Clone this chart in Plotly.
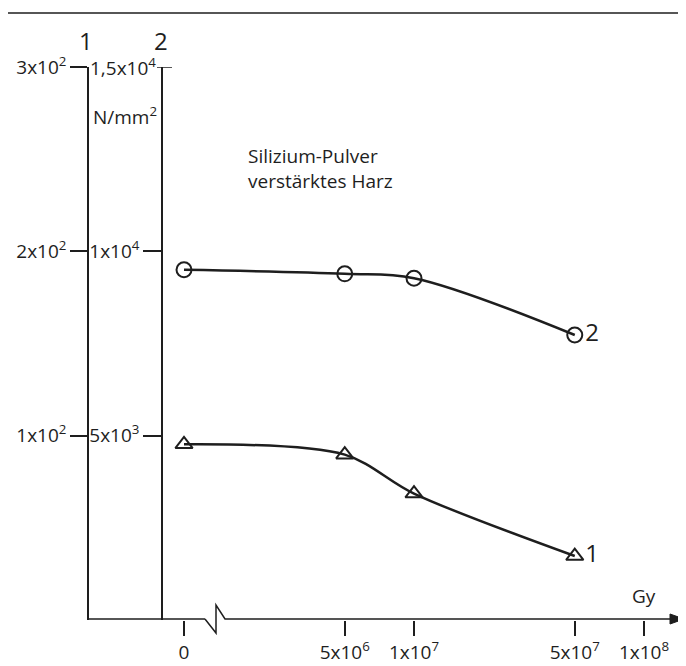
import math
import plotly.graph_objects as go

# ---------------- data ----------------
DOSE_GY = [0, 5e6, 1e7, 5e7]                 # irradiation dose (Gy)
SERIES1_NMM2 = [95.3, 89.7, 68.6, 34.7]       # curve 1, scale 1 (N/mm^2)
SERIES2_NMM2 = [9500, 9390, 9270, 7730]       # curve 2, scale 2 (N/mm^2)
SERIES_NAMES = ["1", "2"]

X_TICK_DOSES = [0, 5e6, 1e7, 5e7, 1e8]
X_TICK_LABELS = ["0", "5x10<sup>6</sup>", "1x10<sup>7</sup>", "5x10<sup>7</sup>", "1x10<sup>8</sup>"]
Y1_TICKS = [100, 200, 300]
Y1_LABELS = ["1x10<sup>2</sup>", "2x10<sup>2</sup>", "3x10<sup>2</sup>"]
Y2_TICKS = [5000, 10000]
Y2_LABELS = ["5x10<sup>3</sup>", "1x10<sup>4</sup>"]
Y2_TOP_TICK = 15000
Y2_TOP_LABEL = "1,5x10<sup>4</sup>"
BREAK_POS = 1e6   # where dose 0 is drawn on the broken log axis

TITLE_LINES = ["Silizium-Pulver", "verstärktes Harz"]

# ---------------- geometry helpers ----------------
W, H = 686, 666
OFF = 8           # default page body margin
INK = "#1e1e1e"
FONT = "Open Sans"


def px(x):
    return (x - OFF) / W


def py(y):
    return 1 - (y - OFF) / H


def to_axis(d):
    return BREAK_POS if d == 0 else d


X_LEFT, X_RIGHT = 88, 683
X0_PIX, DEC_PIX = 184, 230
lx0 = math.log10(BREAK_POS)
xrange_log = [lx0 - (X0_PIX - X_LEFT) / DEC_PIX, lx0 + (X_RIGHT - X0_PIX) / DEC_PIX]
Y_ZERO, Y_TOP = 620, 67
AX1_X, AX2_X = 88, 162

fig = go.Figure()

fig.add_trace(go.Scatter(
    x=[to_axis(d) for d in DOSE_GY], y=SERIES1_NMM2, yaxis="y",
    mode="lines+markers+text", line=dict(color=INK, width=2.5, shape="spline", smoothing=0.9),
    marker=dict(symbol="triangle-up-open", size=15, color=INK, line=dict(width=2, color=INK)),
    text=["", "", "", SERIES_NAMES[0]], textposition="middle right",
    textfont=dict(size=24, color=INK, family=FONT), cliponaxis=False, showlegend=False,
))
fig.add_trace(go.Scatter(
    x=[to_axis(d) for d in DOSE_GY], y=SERIES2_NMM2, yaxis="y2",
    mode="lines+markers+text", line=dict(color=INK, width=2.5, shape="spline", smoothing=1.0),
    marker=dict(symbol="circle-open", size=15, color=INK, line=dict(width=2, color=INK)),
    text=["", "", "", SERIES_NAMES[1]], textposition="middle right",
    textfont=dict(size=24, color=INK, family=FONT), cliponaxis=False, showlegend=False,
))

ydom = [py(Y_ZERO), py(Y_TOP)]
tickfont = dict(size=19, color=INK, family=FONT)

fig.update_layout(
    width=W, height=H, margin=dict(l=0, r=0, t=0, b=0, autoexpand=False),
    paper_bgcolor="white", plot_bgcolor="white",
    font=dict(family=FONT, color=INK),
    xaxis=dict(type="log", range=xrange_log, domain=[px(X_LEFT), px(X_RIGHT)],
               tickvals=[to_axis(d) for d in X_TICK_DOSES], ticktext=X_TICK_LABELS,
               ticks="outside", ticklen=15, tickwidth=1.5, tickcolor=INK,
               showline=False, showgrid=False, zeroline=False, tickfont=tickfont,
               anchor="y", automargin=False),
    yaxis=dict(range=[0, 300], domain=ydom, anchor="free", position=px(AX1_X),
               tickvals=Y1_TICKS, ticktext=Y1_LABELS, ticks="outside", ticklen=17,
               tickwidth=1.5, tickcolor=INK, showline=True, linecolor=INK, linewidth=1.5,
               showgrid=False, zeroline=False, tickfont=tickfont, automargin=False),
    yaxis2=dict(range=[0, 15000], domain=ydom, anchor="free", position=px(AX2_X),
                overlaying="y", side="left",
                tickvals=Y2_TICKS, ticktext=Y2_LABELS, ticks="outside", ticklen=18,
                tickwidth=1.5, tickcolor=INK, showline=True, linecolor=INK, linewidth=1.5,
                showgrid=False, zeroline=False, tickfont=tickfont, automargin=False),
)

line_style = dict(color=INK, width=1.5)
shapes = [
    # page rule at top
    dict(type="line", xref="paper", yref="paper", x0=px(8), x1=px(694), y0=py(13), y1=py(13), line=line_style),
    # x axis with break
    dict(type="line", xref="paper", yref="paper", x0=px(AX1_X), x1=px(205), y0=py(Y_ZERO - 1), y1=py(Y_ZERO - 1), line=line_style),
    dict(type="path", xref="paper", yref="paper",
         path=f"M{px(205)},{py(619)} L{px(216)},{py(633)} L{px(216)},{py(605)} L{px(225)},{py(619)} L{px(676)},{py(619)}",
         line=line_style),
    dict(type="path", xref="paper", yref="paper",
         path=f"M{px(670)},{py(614)} L{px(684)},{py(619)} L{px(670)},{py(624)} Z",
         fillcolor=INK, line=dict(color=INK, width=1)),
    # top tick of scale 2
    dict(type="line", xref="paper", yref="y2", x0=px(157), x1=px(172), y0=Y2_TOP_TICK, y1=Y2_TOP_TICK, line=line_style),
]
fig.update_layout(shapes=shapes)

ann = [
    dict(text=Y2_TOP_LABEL, xref="paper", yref="y2", x=px(158), y=Y2_TOP_TICK,
         xanchor="right", yanchor="middle", showarrow=False, font=tickfont),
    dict(text="1", xref="paper", yref="paper", x=px(86), y=py(40), xanchor="center", yanchor="middle",
         showarrow=False, font=dict(size=24, color=INK, family=FONT)),
    dict(text="2", xref="paper", yref="paper", x=px(161), y=py(40), xanchor="center", yanchor="middle",
         showarrow=False, font=dict(size=24, color=INK, family=FONT)),
    dict(text="N/mm<sup>2</sup>", xref="paper", yref="paper", x=px(91), y=py(116),
         xanchor="left", yanchor="middle", showarrow=False, font=dict(size=19, color=INK, family=FONT)),
    dict(text="<br>".join(TITLE_LINES), xref="paper", yref="paper", x=px(246), y=py(168),
         xanchor="left", yanchor="middle", align="left", showarrow=False,
         font=dict(size=19, color=INK, family=FONT)),
    dict(text="Gy", xref="paper", yref="paper", x=px(644), y=py(596), xanchor="center", yanchor="middle",
         showarrow=False, font=dict(size=19, color=INK, family=FONT)),
]
fig.update_layout(annotations=ann)

fig.write_html("out.html")
